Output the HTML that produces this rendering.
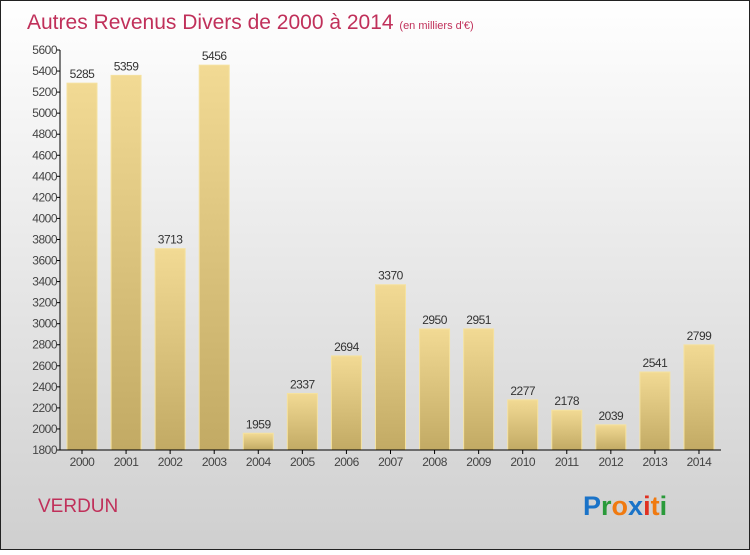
<!DOCTYPE html>
<html><head><meta charset="utf-8"><style>
body{margin:0;width:750px;height:550px;overflow:hidden;font-family:"Liberation Sans",sans-serif}
</style></head><body>
<svg width="750" height="550" xmlns="http://www.w3.org/2000/svg">
<defs>
<linearGradient id="bg" x1="0" y1="0" x2="0" y2="1"><stop offset="0" stop-color="#ffffff"/><stop offset="1" stop-color="#cfcfcf"/></linearGradient>
<linearGradient id="bar" x1="0" y1="0" x2="0" y2="1"><stop offset="0" stop-color="#f2da94"/><stop offset="1" stop-color="#c2aa64"/></linearGradient>
</defs>
<rect x="0.5" y="0.5" width="749" height="549" fill="url(#bg)" stroke="#222"/>
<text x="27" y="29" font-size="21" fill="#c0305a">Autres Revenus Divers de 2000 à 2014 <tspan font-size="11">(en milliers d'€)</tspan></text>
<g id="yaxis"></g>
<g id="bars"></g>
<g id="xaxis"></g>
<text x="38" y="512" font-size="19" fill="#c0305a">VERDUN</text>
<text x="583" y="515" font-size="27" font-weight="bold"><tspan fill="#1a73c8">P</tspan><tspan fill="#2a9a3a">r</tspan><tspan fill="#f07a10">o</tspan><tspan fill="#1a73c8">x</tspan><tspan fill="#e03020">i</tspan><tspan fill="#f07a10">t</tspan><tspan fill="#2a9a3a">i</tspan></text>
</svg>
<script>
const categories=["2000","2001","2002","2003","2004","2005","2006","2007","2008","2009","2010","2011","2012","2013","2014"];
const values=[5285,5359,3713,5456,1959,2337,2694,3370,2950,2951,2277,2178,2039,2541,2799];
const yTicks=[1800,2000,2200,2400,2600,2800,3000,3200,3400,3600,3800,4000,4200,4400,4600,4800,5000,5200,5400,5600];
const NS="http://www.w3.org/2000/svg";
const yMin=1800,yMax=5600,plotTop=50,plotBottom=450,axisX=60,plotRight=721;
function y(v){return plotBottom-(v-yMin)/(yMax-yMin)*(plotBottom-plotTop);}
function xc(i){return 82+i*44.07;}
function mk(t,a,p,txt){const e=document.createElementNS(NS,t);for(const k in a)e.setAttribute(k,a[k]);if(txt!==undefined)e.textContent=txt;p.appendChild(e);return e;}
const ya=document.getElementById('yaxis'),ba=document.getElementById('bars'),xa=document.getElementById('xaxis');
const l=mk('line',{x1:axisX,y1:plotTop,x2:axisX,y2:plotBottom,stroke:'#000'},ya);


yTicks.forEach(t=>{
 const tk=mk('line',{x1:axisX-4,y1:y(t),x2:axisX,y2:y(t),stroke:'#000'},ya);
 
 
 const tl=mk('text',{x:axisX-3,y:y(t)+4,'font-size':12,fill:'#444','text-anchor':'end','letter-spacing':'-0.5'},ya,t);
 
 
});
categories.forEach((c,i)=>{
 const cx=xc(i),yy=y(values[i]);
 const r=mk('rect',{x:cx-15,y:yy,width:30,height:plotBottom-yy,fill:'url(#bar)',stroke:'#f5e2a0','stroke-width':1},ba);
 
 
 const v=mk('text',{x:cx,y:yy-5,'font-size':12,fill:'#333','text-anchor':'middle','letter-spacing':'-0.5'},ba,values[i]);
 
 
 const tk=mk('line',{x1:cx,y1:plotBottom,x2:cx,y2:plotBottom+4,stroke:'#000'},xa);
 
 
 const tl=mk('text',{x:cx,y:plotBottom+16,'font-size':12,fill:'#444','text-anchor':'middle','letter-spacing':'-0.5'},xa,c);
 
 
});
const xl=mk('line',{x1:axisX,y1:plotBottom,x2:plotRight,y2:plotBottom,stroke:'#000'},xa);


</script>
</body></html>
